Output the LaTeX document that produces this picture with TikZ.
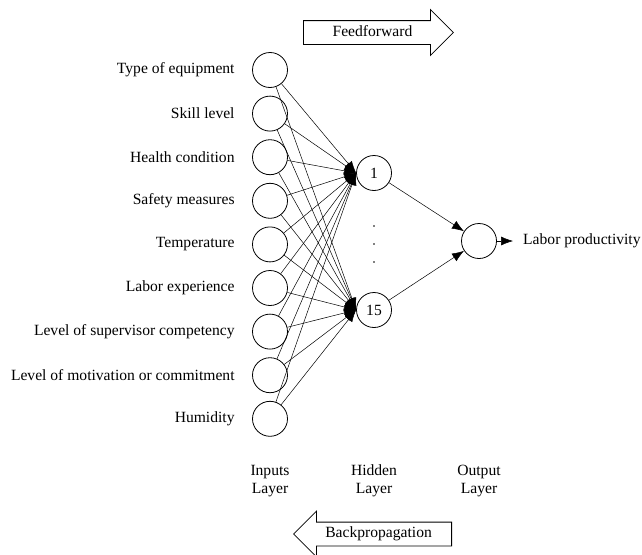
\documentclass[tikz,border=0pt]{standalone}
\usepackage{fontspec}
\setmainfont{Liberation Serif}
\usetikzlibrary{arrows.meta,shapes.arrows}

\begin{document}
\begin{tikzpicture}[
     x=1pt, y=-1pt,
     % define styles
     every node/.style={
         font=\fontsize{15.6}{18}\selectfont
     },
     neuron/.style={
         draw, circle, line width=0.8pt,
         minimum size=35pt, inner sep=0pt
     },
     flowarrow/.style={
         draw, single arrow, line width=0.8pt,
         single arrow head extend=11pt,
         text height=11pt, text depth=4pt,
         inner ysep=4pt
     },
     layer/.style={
         align=center
     },
     >={Latex[length=12pt,width=9pt]}
]
\useasboundingbox (0,0) rectangle (642,554);

% input layer with the factor names on the left
\foreach \lbl [count=\i] in {Type of equipment, Skill level, Health condition,
    Safety measures, Temperature, Labor experience,
    Level of supervisor competency, Level of motivation or commitment, Humidity}
    \node[neuron, label={[label distance=14pt]left:\lbl}] (in\i)
        at (270, {70+(\i-1)*43.6}) {};

% hidden layer, nodes 2..14 shown as dots
\node[neuron] (h1) at (374,173) {1};
\node[neuron] (h15) at (374,310) {15};
\foreach \yy in {226,244,262}
    \fill (374,\yy) circle (0.9pt);

% output layer
\node[neuron] (out) at (479,241) {};
\node[anchor=west, inner xsep=10pt] (prod) at (513,241) {Labor productivity};

% lines from every input to the left point of each hidden node
\foreach \i in {1,...,9} {
    \foreach \h in {h1,h15}
        \draw[->, line width=0.5pt] (in\i) -- (\h.west);
        }
% lines from hidden nodes to output
\foreach \h in {h1,h15}
    \draw[->, line width=0.5pt] (\h) -- (out);
\draw[->, line width=0.5pt] (out) -- (prod);

% layer headings below
\node[layer] (inlbl) at (270,481) {Inputs\\Layer};
\node[layer] (hidlbl) at (374,481) {Hidden\\Layer};
\node[layer] (outlbl) at (479,481) {Output\\Layer};

% direction arrows
\node[flowarrow, minimum height=150pt, anchor=tail] (ff) at (303,32.5) {Feedforward};
\node[flowarrow, shape border rotate=180, minimum height=158pt, anchor=tail] (bp)
    at (452,534) {Backpropagation};
\end{tikzpicture}
\end{document}
